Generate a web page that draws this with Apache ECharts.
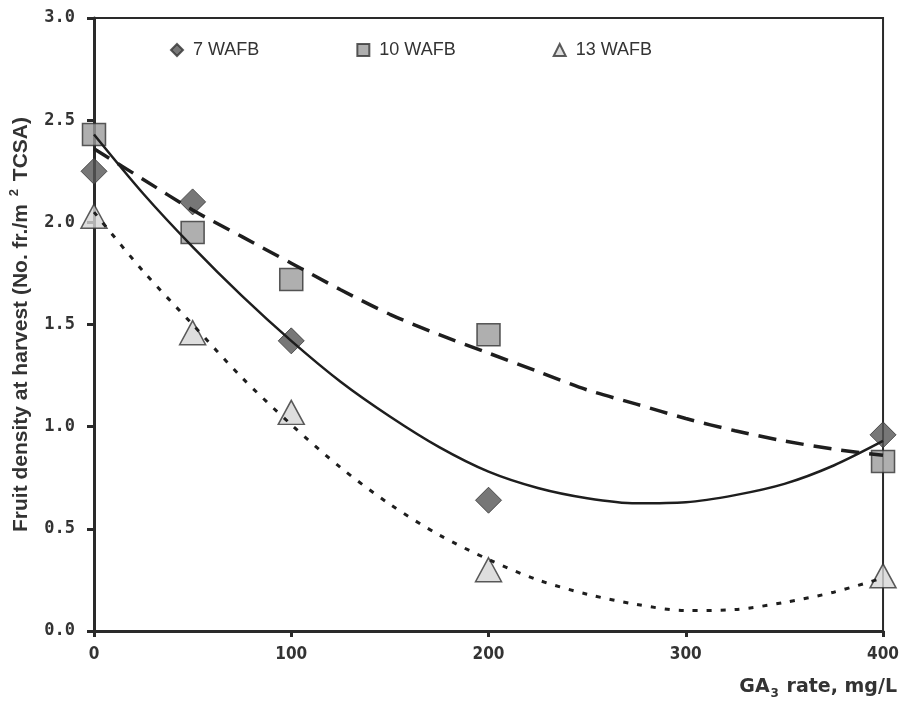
<!DOCTYPE html>
<html>
<head>
<meta charset="utf-8">
<script src="https://cdn.jsdelivr.net/npm/echarts@6/dist/echarts.min.js"></script>
<style>
html,body{margin:0;padding:0;background:#fff;}
#chart{width:902px;height:702px;}
</style>
</head>
<body>
<div id="chart"></div>
<script>
// Observed data
const doses = [0, 50, 100, 200, 400];
const wafb7 = [2.25, 2.10, 1.42, 0.64, 0.96];
const wafb10 = [2.43, 1.95, 1.72, 1.45, 0.83];
const wafb13 = [2.03, 1.46, 1.07, 0.30, 0.27];
// Trend lines
const trendX = [0, 25, 50, 75, 100, 125, 150, 175, 200, 225, 250, 275, 300, 325, 350, 375, 400];
const trend7 = [2.43, 2.14, 1.88, 1.64, 1.42, 1.22, 1.05, 0.90, 0.78, 0.70, 0.65, 0.625, 0.63, 0.665, 0.72, 0.81, 0.93];
const trend10 = [2.36, 2.21, 2.06, 1.93, 1.80, 1.67, 1.55, 1.45, 1.36, 1.27, 1.18, 1.11, 1.04, 0.98, 0.93, 0.89, 0.86];
const trend13 = [2.05, 1.76, 1.50, 1.24, 1.01, 0.80, 0.62, 0.47, 0.35, 0.25, 0.18, 0.13, 0.10, 0.105, 0.14, 0.19, 0.26];
const seriesNames = ['7 WAFB', '10 WAFB', '13 WAFB'];
const xTicks = [0, 100, 200, 300, 400];
const yTicks = [0, 0.5, 1.0, 1.5, 2.0, 2.5, 3.0];

const pair = (xs, ys) => xs.map((x, i) => [x, ys[i]]);

const chart = echarts.init(document.getElementById('chart'));
const axisColor = '#2a2a2a';

const option = {
  backgroundColor: '#fff',
  animation: false,
  grid: {
    left: 92, right: 18, top: 18, bottom: 71,
    show: true, borderColor: axisColor, borderWidth: 2, containLabel: false
  },
  legend: {
    left: 165, top: 36, itemGap: 97,
    itemWidth: 12, itemHeight: 12,
    textStyle: { fontFamily: 'Liberation Sans, Arial, sans-serif', fontSize: 18, color: '#333', padding: [0, 0, 0, 5] },
    data: [
      { name: seriesNames[0], icon: 'diamond' },
      { name: seriesNames[1], icon: 'rect' },
      { name: seriesNames[2], icon: 'triangle' }
    ]
  },
  xAxis: {
    type: 'value', min: 0, max: 400, interval: 100,
    axisLine: { show: true, lineStyle: { color: axisColor, width: 3 } },
    axisTick: { show: true, inside: false, length: 6, lineStyle: { color: axisColor, width: 3 } },
    splitLine: { show: false },
    axisLabel: {
      margin: 15, color: '#333', fontWeight: 'bold', fontSize: 17,
      fontFamily: 'Liberation Sans Narrow, DejaVu Sans Condensed, sans-serif',
      formatter: v => xTicks.includes(v) ? String(v) : ''
    }
  },
  yAxis: {
    type: 'value', min: 0, max: 3, interval: 0.5,
    axisLine: { show: true, lineStyle: { color: axisColor, width: 3 } },
    axisTick: { show: true, inside: false, length: 7, lineStyle: { color: axisColor, width: 3 } },
    splitLine: { show: false },
    axisLabel: {
      margin: 19, color: '#333', fontWeight: 'bold', fontSize: 17,
      fontFamily: 'DejaVu Sans Mono, monospace',
      formatter: v => yTicks.some(t => Math.abs(t - v) < 1e-9) ? v.toFixed(1) : ''
    },
    name: '{b|Fruit density at harvest (No. fr./m }{s|2}{b| TCSA)}',
    nameLocation: 'middle', nameGap: 62, nameRotate: 90,
    nameTextStyle: {
      rich: {
        b: { fontFamily: 'Liberation Sans, Arial, sans-serif', fontWeight: 'bold', fontSize: 21, color: '#333', lineHeight: 24, verticalAlign: 'bottom' },
        s: { fontFamily: 'Liberation Sans, Arial, sans-serif', fontWeight: 'bold', fontSize: 13, color: '#333', lineHeight: 14, padding: [0, 2, 10, 2], verticalAlign: 'top' }
      }
    }
  },
  graphic: [{
    type: 'text', right: 5, top: 676,
    style: {
      text: '{b|GA}{s|3}{b| rate, mg/L}',
      rich: {
        b: { fontFamily: 'DejaVu Sans, sans-serif', fontWeight: 'bold', fontSize: 19, fill: '#333', lineHeight: 22, verticalAlign: 'top' },
        s: { fontFamily: 'DejaVu Sans, sans-serif', fontWeight: 'bold', fontSize: 12, fill: '#333', lineHeight: 14, padding: [12, 1, 0, 1], verticalAlign: 'bottom' }
      }
    }
  }],
  series: [
    {
      name: seriesNames[0], type: 'scatter', z: 2,
      symbol: 'diamond', symbolSize: [26, 26],
      itemStyle: { color: '#555555', borderColor: '#333', borderWidth: 1 },
      data: pair(doses, wafb7)
    },
    {
      name: seriesNames[1], type: 'scatter', z: 2,
      symbol: 'rect', symbolSize: [23, 22],
      itemStyle: { color: '#9b9b9b', borderColor: '#333', borderWidth: 1.5 },
      data: pair(doses, wafb10)
    },
    {
      name: seriesNames[2], type: 'scatter', z: 2,
      symbol: 'triangle', symbolSize: [26, 24],
      itemStyle: { color: '#d6d6d6', borderColor: '#333', borderWidth: 1.5 },
      data: pair(doses, wafb13)
    },
    {
      name: 'trend7', type: 'line', z: 3, smooth: 0.3, symbol: 'none',
      lineStyle: { color: '#1e1e1e', width: 2.5, type: 'solid' },
      data: pair(trendX, trend7)
    },
    {
      name: 'trend10', type: 'line', z: 3, smooth: 0.3, symbol: 'none',
      lineStyle: { color: '#1e1e1e', width: 3.5, type: [18, 10] },
      data: pair(trendX, trend10)
    },
    {
      name: 'trend13', type: 'line', z: 3, smooth: 0.3, symbol: 'none',
      lineStyle: { color: '#1e1e1e', width: 3, type: [5, 9] },
      data: pair(trendX, trend13)
    }
  ]
};
chart.setOption(option);
</script>
</body>
</html>
